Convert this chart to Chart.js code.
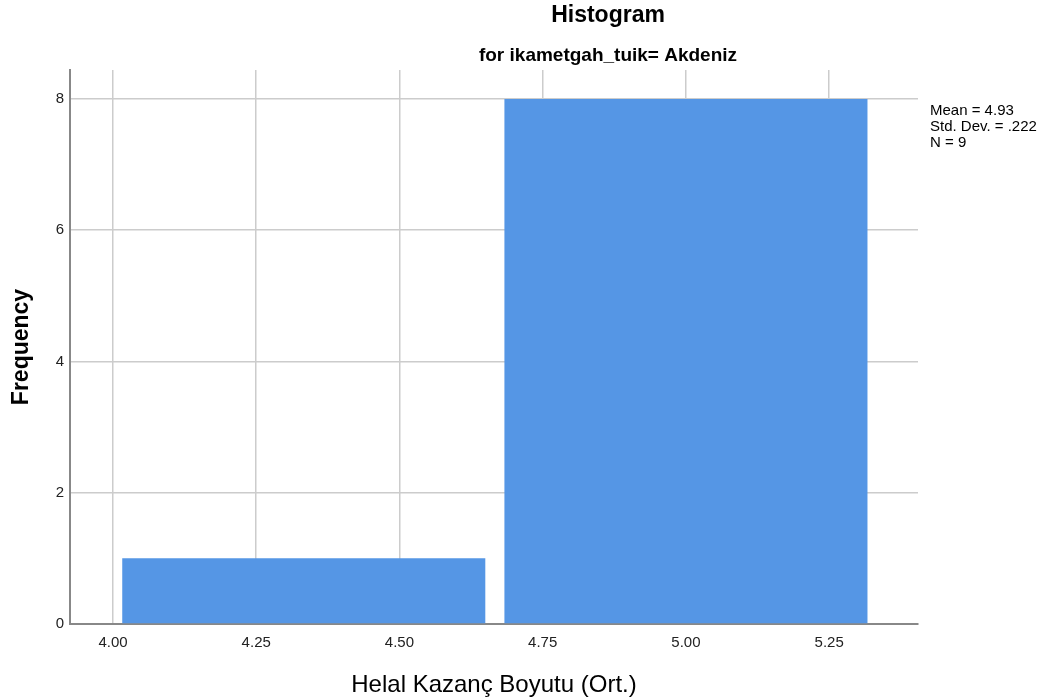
<!DOCTYPE html>
<html>
<head>
<meta charset="utf-8">
<script src="https://cdn.jsdelivr.net/npm/chart.js@4"></script>
<style>
  body { margin: 0; background: white; }
  #wrap { width: 1054px; height: 700px; }
</style>
</head>
<body>
<div id="wrap"><canvas id="chart" width="1054" height="700"></canvas></div>
<script>
// bin centres and counts
let binCenters = [4.333, 5.0];
let frequencies = [1, 8];
let xTicks = [4.00, 4.25, 4.50, 4.75, 5.00, 5.25];
let yTicks = [0, 2, 4, 6, 8];
let statsLines = ['Mean = 4.93', 'Std. Dev. = .222', 'N = 9'];

const FONT = '"Liberation Sans", Arial, sans-serif';
const X_MIN = 3.925, X_MAX = 5.405;

function drawHeader() {
    return {
        id: 'header_text',
        afterDraw: (chart) => {
            const {ctx, chartArea} = chart;
            ctx.save();
            ctx.fillStyle = '#000';
            ctx.textAlign = 'center';
            ctx.textBaseline = 'middle';
            ctx.font = 'bold 23px ' + FONT;
            ctx.fillText('Histogram', 608, 16);
            ctx.font = 'bold 19px ' + FONT;
            ctx.fillText('for ikametgah_tuik= Akdeniz', 608, 56);
            ctx.textAlign = 'left';
            ctx.font = '15px ' + FONT;
            statsLines.forEach((line, i) => {
                ctx.fillText(line, chartArea.right + 12, 111 + i * 16);
            });
            ctx.restore();
        }
    };
}

new Chart(document.getElementById('chart'), {
    type: 'bar',
    data: {
        datasets: [{
            label: 'Frequency',
            xAxisID: 'xb',
            data: binCenters.map((x, i) => ({x: x, y: frequencies[i]})),
            backgroundColor: '#5596e5',
            borderWidth: 0,
            barPercentage: 0.95,
            categoryPercentage: 1.0
        }]
    },
    options: {
        responsive: false,
        animation: false,
        layout: {padding: {top: 70, right: 136, left: 0, bottom: 0}},
        plugins: {
            legend: {display: false},
            tooltip: {enabled: false}
        },
        scales: {
            // hidden axis that carries the bars, so tick spacing does not shrink them
            xb: {
                type: 'linear',
                display: false,
                offset: false,
                min: X_MIN,
                max: X_MAX,
                afterBuildTicks: (axis) => { axis.ticks = []; }
            },
            x: {
                type: 'linear',
                offset: false,
                min: X_MIN,
                max: X_MAX,
                afterBuildTicks: (axis) => { axis.ticks = xTicks.map(v => ({value: v})); },
                afterFit: (axis) => { axis.height = 76; },
                ticks: {
                    color: '#222',
                    font: {family: FONT, size: 15},
                    padding: 10,
                    callback: (v) => v.toFixed(2)
                },
                grid: {color: '#cccccc', lineWidth: 1.5, offset: false, drawTicks: false, tickLength: 0},
                border: {color: '#888', width: 2},
                title: {
                    display: true,
                    text: 'Helal Kazanç Boyutu (Ort.)',
                    color: '#000',
                    font: {family: FONT, size: 24},
                    padding: {top: 4, bottom: 0}
                }
            },
            y: {
                min: 0,
                max: 8.44,
                afterBuildTicks: (axis) => { axis.ticks = yTicks.map(v => ({value: v})); },
                afterFit: (axis) => { axis.width = 70; },
                ticks: {
                    color: '#222',
                    font: {family: FONT, size: 15},
                    padding: 6
                },
                grid: {color: '#cccccc', lineWidth: 1.5, drawTicks: false, tickLength: 0},
                border: {color: '#888', width: 2},
                title: {
                    display: true,
                    text: 'Frequency',
                    color: '#000',
                    font: {family: FONT, size: 23, weight: 'bold'},
                    padding: {top: 8, bottom: 4}
                }
            }
        }
    },
    plugins: [drawHeader()]
});
</script>
</body>
</html>
